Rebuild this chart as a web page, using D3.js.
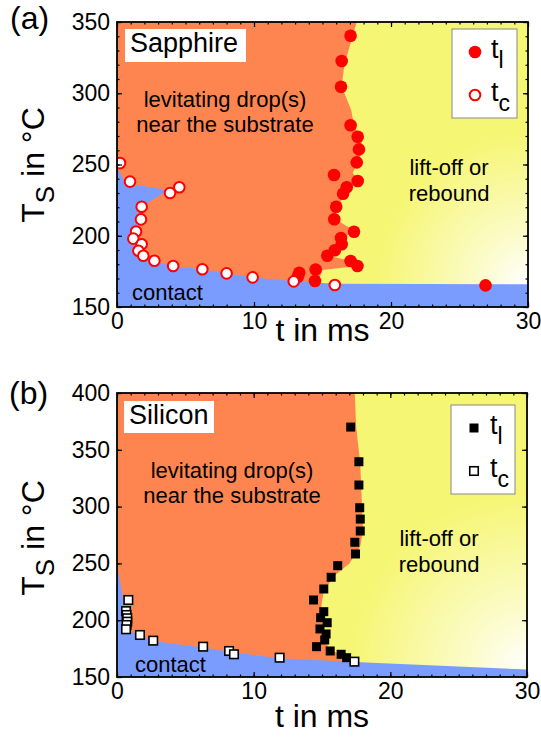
<!DOCTYPE html>
<html>
<head>
<meta charset="utf-8">
<script src="https://cdn.jsdelivr.net/npm/d3@7"></script>
<style>
  body { margin: 0; background: #fff; }
  svg { font-family: "Liberation Sans", Arial, sans-serif; }
</style>
</head>
<body>
<div id="chart"></div>
<script>
// ---- data: [t in ms, T_S in °C] ----
const sapphireTl = [
  [17.05, 340.4], [16.4, 322.6], [16.35, 304.6], [17.05, 277.5], [17.57, 269.5],
  [17.66, 260.6], [17.5, 251.5], [15.84, 242.6], [17.57, 238.4], [16.77, 234],
  [16.5, 229.5], [16.0, 220.4], [15.86, 211.6], [17.3, 202.8], [16.35, 198.4],
  [16.4, 194], [15.9, 189.8], [15.35, 186], [17.05, 182.3], [17.55, 178.8],
  [14.5, 176.3], [13.3, 174], [13.2, 171.2], [14.45, 168.2], [26.9, 165.2]
];
const sapphireTc = [
  [0.22, 251], [0.95, 238], [4.55, 234], [3.87, 230], [1.8, 220.4], [1.75, 211.5],
  [1.39, 203], [1.19, 198], [1.8, 194], [1.56, 189.5], [1.92, 186], [2.73, 182.5],
  [4.1, 178.8], [6.23, 176.5], [8.0, 173.6], [9.9, 170.8], [12.9, 168], [15.9, 165.4]
];
const siliconTl = [
  [17.1, 370], [17.7, 339.5], [17.7, 319], [17.76, 299], [17.8, 289], [17.8, 278.5],
  [17.4, 268.6], [17.45, 258.3], [16.15, 248], [15.67, 237.8], [15.13, 227.5],
  [14.38, 217.8], [15.13, 207.5], [14.9, 202.2], [15.38, 197.8], [14.85, 192.3],
  [15.3, 187.9], [15.2, 182.6], [14.6, 176.7], [15.6, 172.9], [16.4, 170], [16.8, 167]
];
const siliconTc = [
  [0.83, 217.8], [0.66, 208], [0.7, 204.6], [0.75, 201.7], [0.75, 198.7], [0.7, 195.8],
  [0.66, 192], [1.68, 187], [2.65, 182], [6.3, 176.7], [8.2, 172.9], [8.56, 170],
  [11.9, 167], [17.37, 163.5]
];

// region outlines (levitating = orange, contact = blue)
const sapphireLevitating = [
  [0, 350], [17.5, 350], [16.6, 320], [16.4, 305], [17.1, 288], [17.3, 277], [17.8, 269.5],
  [17.9, 260], [17.6, 251.5], [17.2, 244], [17.8, 238], [16.9, 234], [16.6, 229], [16.1, 220],
  [15.9, 212], [17.4, 203], [16.4, 198.6], [16.4, 194], [15.9, 190], [15.4, 186], [17.1, 182.3],
  [17.6, 178.8], [15.0, 176], [14.7, 168], [14.7, 150], [0, 150]
];
const sapphireContact = [
  [0, 248], [0.6, 237], [3.7, 232], [1.8, 220.4], [1.75, 211.5], [1.3, 203], [1.15, 198],
  [1.4, 190], [1.9, 186], [2.7, 182.5], [4.1, 178.8], [6.2, 176.5], [8.0, 173.6], [9.9, 170.8],
  [12.9, 168], [15.9, 166.3], [30, 166], [30, 150], [0, 150]
];
const siliconLevitating = [
  [0, 400], [17.4, 400], [17.5, 370], [17.8, 338], [17.9, 309], [18.0, 279], [17.8, 265],
  [17.5, 259], [17.0, 250], [15.8, 238], [15.1, 224], [14.95, 212], [15.1, 194], [15.2, 183],
  [15.55, 174], [16.5, 169.4], [17.4, 165], [17.4, 150], [0, 150]
];
const siliconContact = [
  [0, 249], [0.45, 218], [0.5, 192], [1.7, 186.5], [2.7, 181.5], [6.3, 176], [8.3, 172],
  [11.9, 166.5], [17.4, 163.2], [30, 156.5], [30, 150], [0, 150]
];

const xTicks = [0, 10, 20, 30];
const sapphireYTicks = [150, 200, 250, 300, 350];
const siliconYTicks = [150, 200, 250, 300, 350, 400];

const colors = {
  orange: "#ff8550",
  yellow: "#f6f675",
  blue: "#7a9cff",
  red: "#ff0000"
};

const svg = d3.select("#chart").append("svg")
  .attr("width", 541)
  .attr("height", 744);
const defs = svg.append("defs");

const panels = [
  {
    id: "a", tag: "(a)", material: "Sapphire", marker: "circle",
    left: 117, top: 22, width: 411, height: 285, yDomain: [150, 350],
    yTicks: sapphireYTicks, yMinor: d3.range(150, 351, 10),
    tl: sapphireTl, tc: sapphireTc, lev: sapphireLevitating, contact: sapphireContact,
    glow: [30, 166, 150],
    tagPos: [10, 29], yLabelPos: [44, 165], xLabelY: 341,
    levPos: [108, 85], liftPos: [332, 153], contactPos: [15, 278],
    matBox: [8, 7, 121, 33], legBox: [335, 7, 65, 89], legRows: [30, 73]
  },
  {
    id: "b", tag: "(b)", material: "Silicon", marker: "square",
    left: 117, top: 393, width: 410, height: 284, yDomain: [150, 400],
    yTicks: siliconYTicks, yMinor: siliconYTicks,
    tl: siliconTl, tc: siliconTc, lev: siliconLevitating, contact: siliconContact,
    glow: [30, 157, 175],
    tagPos: [9, 404], yLabelPos: [44, 538], xLabelY: 727,
    levPos: [115, 85], liftPos: [322, 153], contactPos: [18, 279],
    matBox: [7, 8, 90, 32], legBox: [334, 12, 64, 89], legRows: [35, 78]
  }
];

panels.forEach(p => drawPanel(p));

function drawPanel(p) {
  const x = d3.scaleLinear().domain([0, 30]).range([0, p.width]);
  const y = d3.scaleLinear().domain(p.yDomain).range([p.height, 0]);

  const g = svg.append("g").attr("transform", `translate(${p.left},${p.top})`);

  defs.append("clipPath").attr("id", "clip-" + p.id)
    .append("rect").attr("width", p.width).attr("height", p.height);

  // white glow at the lower right of the lift-off region
  const grad = defs.append("radialGradient")
    .attr("id", "glow-" + p.id)
    .attr("gradientUnits", "userSpaceOnUse")
    .attr("cx", x(p.glow[0])).attr("cy", y(p.glow[1])).attr("r", p.glow[2]);
  grad.append("stop").attr("offset", 0).attr("stop-color", "#fff").attr("stop-opacity", 1);
  grad.append("stop").attr("offset", 0.35).attr("stop-color", "#fff").attr("stop-opacity", 0.6);
  grad.append("stop").attr("offset", 1).attr("stop-color", "#fff").attr("stop-opacity", 0);

  const area = g.append("g").attr("clip-path", `url(#clip-${p.id})`);
  area.append("rect").attr("width", p.width).attr("height", p.height).attr("fill", colors.yellow);
  area.append("rect").attr("width", p.width).attr("height", p.height).attr("fill", `url(#glow-${p.id})`);

  const outline = d3.line().x(d => x(d[0])).y(d => y(d[1]));
  area.append("path").attr("d", outline(p.lev) + "Z").attr("fill", colors.orange);
  area.append("path").attr("d", outline(p.contact) + "Z").attr("fill", colors.blue);

  // region labels
  const lev = g.append("text").attr("text-anchor", "middle").style("font-size", "22px");
  lev.append("tspan").attr("x", p.levPos[0]).attr("y", p.levPos[1]).text("levitating drop(s)");
  lev.append("tspan").attr("x", p.levPos[0]).attr("y", p.levPos[1] + 25).text("near the substrate");
  const lift = g.append("text").attr("text-anchor", "middle").style("font-size", "22px");
  lift.append("tspan").attr("x", p.liftPos[0]).attr("y", p.liftPos[1]).text("lift-off or");
  lift.append("tspan").attr("x", p.liftPos[0]).attr("y", p.liftPos[1] + 26).text("rebound");
  g.append("text").attr("x", p.contactPos[0]).attr("y", p.contactPos[1])
    .style("font-size", "22px").text("contact");

  // material tag
  g.append("rect").attr("x", p.matBox[0]).attr("y", p.matBox[1])
    .attr("width", p.matBox[2]).attr("height", p.matBox[3]).attr("fill", "#fff");
  g.append("text").attr("x", p.matBox[0] + 5).attr("y", p.matBox[1] + 23)
    .style("font-size", "27px").text(p.material);

  // markers
  drawMarkers(area, p.tl, x, y, p.marker, true);
  drawMarkers(area, p.tc, x, y, p.marker, false);

  // axes with inward ticks on all four sides
  const xMinor = d3.range(0, 31, 1);
  const noLabel = () => "";
  tickAxis(g, d3.axisBottom(x), xMinor, -2.5, noLabel, `translate(0,${p.height})`);
  tickAxis(g, d3.axisTop(x), xMinor, -2.5, noLabel, null);
  tickAxis(g, d3.axisLeft(y), p.yMinor, -2.5, noLabel, null);
  tickAxis(g, d3.axisRight(y), p.yMinor, -2.5, noLabel, `translate(${p.width},0)`);

  tickAxis(g, d3.axisBottom(x), xTicks, -5, d3.format("d"), `translate(0,${p.height})`, 6);
  tickAxis(g, d3.axisTop(x), xTicks, -5, noLabel, null);
  tickAxis(g, d3.axisLeft(y), p.yTicks, -5, d3.format("d"), null, 7);
  tickAxis(g, d3.axisRight(y), p.yTicks, -5, noLabel, `translate(${p.width},0)`);

  g.append("rect").attr("width", p.width).attr("height", p.height)
    .attr("fill", "none").attr("stroke", "#000").attr("stroke-width", 1.8);

  // legend
  const leg = g.append("g");
  leg.append("rect").attr("x", p.legBox[0]).attr("y", p.legBox[1])
    .attr("width", p.legBox[2]).attr("height", p.legBox[3])
    .attr("fill", "#fff").attr("stroke", "#888").attr("stroke-width", 1);
  const mx = p.legBox[0] + 23;
  [["l", true], ["c", false]].forEach((row, i) => {
    const cy = p.legRows[i];
    drawMarkerAt(leg, mx, cy, p.marker, row[1]);
    const t = leg.append("text").attr("x", mx + 16).attr("y", cy + 6).style("font-size", "27px");
    t.append("tspan").text("t");
    t.append("tspan").attr("dy", 10).style("font-size", "23px").text(row[0]);
  });

  // panel tag and axis titles
  svg.append("text").attr("x", p.tagPos[0]).attr("y", p.tagPos[1])
    .style("font-size", "32px").text(p.tag);
  const yl = svg.append("text")
    .attr("transform", `translate(${p.yLabelPos[0]},${p.yLabelPos[1]}) rotate(-90)`)
    .attr("text-anchor", "middle").style("font-size", "32px");
  yl.append("tspan").text("T");
  yl.append("tspan").attr("dy", 10).style("font-size", "26px").text("S");
  yl.append("tspan").attr("dy", -10).text(" in °C");
  svg.append("text").attr("x", p.left + p.width / 2).attr("y", p.xLabelY)
    .attr("text-anchor", "middle").style("font-size", "32px").text("t in ms");
}

function tickAxis(g, axis, values, size, fmt, transform, pad) {
  const a = g.append("g")
    .call(axis.tickValues(values).tickSizeInner(size).tickSizeOuter(0)
      .tickPadding(pad || 3).tickFormat(fmt));
  if (transform) a.attr("transform", transform);
  a.select(".domain").remove();
  a.selectAll("line").attr("stroke", "#000").attr("stroke-width", 1.2);
  a.selectAll("text").attr("fill", "#000").style("font-size", "23px")
    .style("font-family", "'Liberation Sans', Arial, sans-serif");
  return a;
}

function drawMarkers(g, data, x, y, shape, filled) {
  data.forEach(d => drawMarkerAt(g, x(d[0]), y(d[1]), shape, filled));
}

function drawMarkerAt(g, cx, cy, shape, filled) {
  if (shape === "circle") {
    g.append("circle").attr("cx", cx).attr("cy", cy)
      .attr("r", filled ? 6.3 : 5.3)
      .attr("fill", filled ? colors.red : "#fff")
      .attr("stroke", colors.red).attr("stroke-width", filled ? 0 : 2);
  } else {
    const s = filled ? 9 : 8.5;
    g.append("rect").attr("x", cx - s / 2).attr("y", cy - s / 2)
      .attr("width", s).attr("height", s)
      .attr("fill", filled ? "#000" : "#fff")
      .attr("stroke", "#000").attr("stroke-width", filled ? 0 : 1.6);
  }
}
</script>
</body>
</html>
